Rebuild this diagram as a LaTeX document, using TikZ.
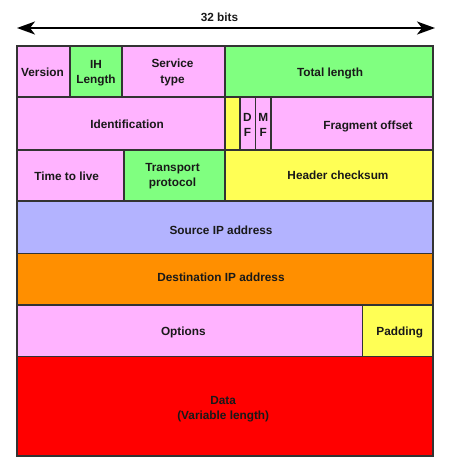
\documentclass[tikz,border=0pt]{standalone}
\usepackage{fontspec}
\setmainfont{Liberation Sans}
\usetikzlibrary{arrows.meta}
\definecolor{fpink}{HTML}{FFB3FF}
\definecolor{fgreen}{HTML}{80FF80}
\definecolor{fyellow}{HTML}{FFFF55}
\definecolor{fblue}{HTML}{B3B3FF}
\definecolor{forange}{HTML}{FF8F00}
\definecolor{fred}{HTML}{FF0000}
\definecolor{fborder}{HTML}{333333}
\tikzset{
  fieldbox/.style={draw=fborder, line width=1.4pt, inner sep=0pt, outer sep=0pt, rectangle},
  fieldtext/.style={inner sep=0pt, align=center, font=\fontsize{11.8}{15.5}\selectfont\bfseries, text=black!90},
  linetext/.style={fieldtext, anchor=base},
  bitsarrow/.style={line width=2pt, {Stealth[length=18pt,width=13pt,inset=5pt]}-{Stealth[length=18pt,width=13pt,inset=5pt]}}
}
\newcommand{\fld}[6]{%
  \node[fieldbox, fill=#6, minimum width={(#4-#2)*1pt}, minimum height={(#5-#3)*1pt}] (#1) at ({(#2+#4)/2},{(#3+#5)/2}) {};}
\begin{document}
\begin{tikzpicture}[x=1pt,y=-1pt]
\useasboundingbox (0,0) rectangle (452,475);
% arrow
\coordinate (al) at (17,28);
\coordinate (ar) at (435,28);
\draw[bitsarrow] (al) -- (ar);
\node[linetext] (bits) at (219.5,21.8) {32 bits};
% row 1
\fld{version}{17}{46}{70}{97}{fpink}
\fld{ihl}{70}{46}{122}{97}{fgreen}
\fld{service}{122}{46}{225}{97}{fpink}
\fld{total}{225}{46}{433}{97}{fgreen}
% row 2
\fld{ident}{17}{97}{225}{150}{fpink}
\fld{resv}{225}{97}{240}{150}{fyellow}
\fld{df}{240}{97}{255.5}{150}{fpink}
\fld{mf}{255.5}{97}{271}{150}{fpink}
\fld{frag}{271}{97}{433}{150}{fpink}
% row 3
\fld{ttl}{17}{150}{124}{201}{fpink}
\fld{proto}{124}{150}{225}{201}{fgreen}
\fld{checksum}{225}{150}{433}{201}{fyellow}
% rows 4, 5
\fld{src}{17}{201}{433}{253.5}{fblue}
\fld{dst}{17}{253.5}{433}{305}{forange}
% row 6
\fld{options}{17}{305}{362.7}{356.5}{fpink}
\fld{padding}{362.7}{305}{433}{356.5}{fyellow}
% data
\fld{data}{17}{356.5}{433}{456}{fred}
% texts
\node[linetext] (tversion) at (42.5,76.1) {Version};
\node[fieldtext] (tihl) at (96,73.3) {IH\\Length};
\node[fieldtext] (tservice) at (172.5,72.3) {Service\\type};
\node[linetext] (ttotal) at (330,76.1) {Total length};
\node[linetext] (tident) at (127,128.1) {Identification};
\node[fieldtext] (tdf) at (247.5,124.7) {D\\F};
\node[fieldtext] (tmf) at (263.3,124.7) {M\\F};
\node[linetext] (tfrag) at (368,129.1) {Fragment offset};
\node[linetext] (tttl) at (66.7,180.1) {Time to live};
\node[fieldtext] (tproto) at (172.5,176.2) {Transport\\protocol};
\node[linetext] (tchecksum) at (338,179.4) {Header checksum};
\node[linetext] (tsrc) at (221,234.4) {Source IP address};
\node[linetext] (tdst) at (221,281.8) {Destination IP address};
\node[linetext] (toptions) at (183.3,335.8) {Options};
\node[linetext] (tpadding) at (399.7,335.8) {Padding};
\node[fieldtext] (tdata) at (223.2,409.4) {Data\\(Variable length)};
\end{tikzpicture}
\end{document}
